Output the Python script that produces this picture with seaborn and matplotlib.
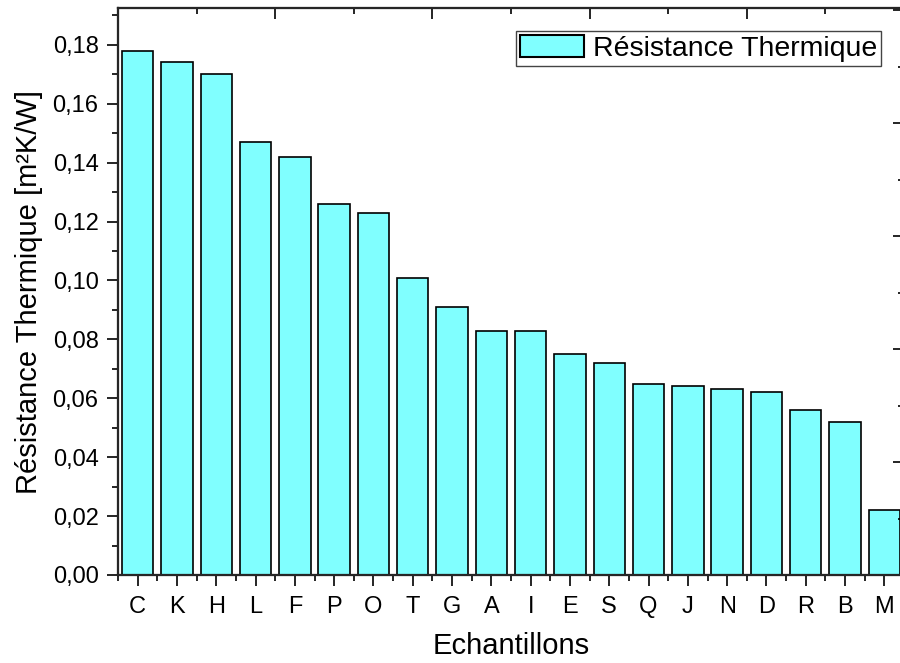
import numpy as np
import pandas as pd
import matplotlib
matplotlib.use("Agg")
import matplotlib.pyplot as plt
import seaborn as sns
from matplotlib.patches import Patch
from matplotlib.ticker import FuncFormatter, MultipleLocator

samples = ["C", "K", "H", "L", "F", "P", "O", "T", "G", "A",
           "I", "E", "S", "Q", "J", "N", "D", "R", "B", "M"]
resistance = [0.178, 0.174, 0.170, 0.147, 0.142, 0.126, 0.123, 0.101, 0.091, 0.083,
              0.083, 0.075, 0.072, 0.065, 0.064, 0.063, 0.062, 0.056, 0.052, 0.022]

BAR_COLOR = "#80FFFF"

sns.set_style("ticks")
plt.rcParams["font.family"] = ["Liberation Sans", "DejaVu Sans"]
plt.rcParams["axes.linewidth"] = 1.5
plt.rcParams["text.color"] = "black"
plt.rcParams["axes.labelcolor"] = "black"

df = pd.DataFrame({"Echantillon": samples, "R": resistance})

fig = plt.figure(figsize=(9, 6.63), dpi=100)
ax = fig.add_axes([118 / 900, 88 / 663, 786 / 900, 567 / 663])

sns.barplot(data=df, x="Echantillon", y="R", color=BAR_COLOR, saturation=1,
            edgecolor="black", linewidth=1.2, width=0.8, ax=ax)

ax.set_xlim(-0.5, len(samples) - 0.5)
ax.set_ylim(0, 0.1925)

ax.yaxis.set_major_locator(MultipleLocator(0.02))
ax.yaxis.set_minor_locator(MultipleLocator(0.01))
ax.yaxis.set_major_formatter(FuncFormatter(lambda v, p: f"{v:.2f}".replace(".", ",")))
ax.set_xticks(np.arange(-0.5, len(samples), 1), minor=True)

ax.tick_params(axis="both", which="major", direction="out", length=8, width=1.2,
               labelsize=17, color="black", labelcolor="black")
ax.tick_params(axis="both", which="minor", direction="out", length=4.3, width=1.2,
               color="black")
ax.tick_params(axis="y", pad=6)
ax.tick_params(axis="x", pad=7)

ax.set_xlabel("Echantillons", fontsize=21, labelpad=10, color="black")
ax.set_ylabel("Résistance Thermique [m²K/W]", fontsize=21, labelpad=7, color="black")

for s in ax.spines.values():
    s.set_visible(True)
    s.set_color("black")
    s.set_linewidth(1.5)

# mirrored axes with their own ticks (no labels)
ax_r = ax.twinx()
ax_r.set_ylim(0, 5.018)
ax_r.yaxis.set_major_locator(MultipleLocator(1))
ax_r.yaxis.set_minor_locator(MultipleLocator(0.5))
ax_r.tick_params(axis="y", which="major", direction="in", length=8, width=1.2,
                 labelright=False, color="black")
ax_r.tick_params(axis="y", which="minor", direction="in", length=4.3, width=1.2, color="black")

ax_t = ax.twiny()
ax_t.set_xlim(-0.5, len(samples) - 0.5)
ax_t.set_xticks(np.arange(-0.5, len(samples), 4))
ax_t.set_xticks(np.arange(1.5, len(samples), 4), minor=True)
ax_t.tick_params(axis="x", which="major", direction="in", length=8, width=1.2,
                 labeltop=False, color="black")
ax_t.tick_params(axis="x", which="minor", direction="in", length=4.3, width=1.2, color="black")

handles = [Patch(facecolor=BAR_COLOR, edgecolor="black", linewidth=1.5)]
leg = ax.legend(handles, ["Résistance Thermique"], loc="upper right", fontsize=20.5,
                frameon=True, fancybox=False, framealpha=1, edgecolor="#444444",
                borderpad=0.15, borderaxespad=0.8, handlelength=2.25,
                handleheight=0.8, handletextpad=0.3, labelcolor="black")
leg.get_frame().set_linewidth(1.0)

fig.savefig("out.png", dpi=100)
